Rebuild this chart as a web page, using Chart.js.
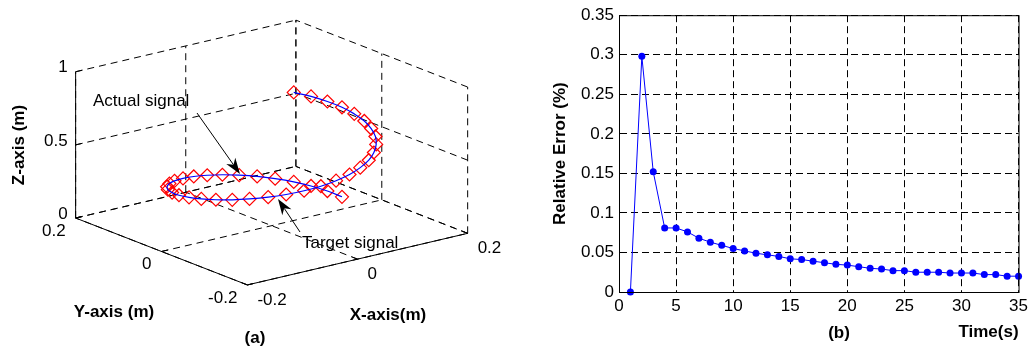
<!DOCTYPE html>
<html>
<head>
<meta charset="utf-8">
<script src="https://cdn.jsdelivr.net/npm/chart.js@4/dist/chart.umd.min.js"></script>
<style>
body { margin: 0; background: #fff; }
#wrap { position: relative; width: 1032px; height: 350px; }
#a { position: absolute; left: 0; top: 0; }
#b { position: absolute; left: 520px; top: 0; }
</style>
</head>
<body>
<div id="wrap">
  <canvas id="a" width="520" height="350"></canvas>
  <canvas id="b" width="512" height="350"></canvas>
</div>
<script>
const FONT = '"Liberation Sans", Arial, Helvetica, sans-serif';
Chart.defaults.font.family = FONT;
Chart.defaults.color = "#000";

// ---- (a) 3D trajectory ----
const axX = [-0.2, 0, 0.2];
const axY = [-0.2, 0, 0.2];
const axZ = [0, 0.5, 1];
const axXLabels = ["-0.2", "0", "0.2"];
const axYLabels = ["-0.2", "0", "0.2"];
const axZLabels = ["0", "0.5", "1"];

const trajX = [0.148, 0.141, 0.130, 0.115, 0.096, 0.075, 0.051, 0.026, 0.000, -0.026,
               -0.051, -0.075, -0.096, -0.115, -0.130, -0.141, -0.148, -0.150, -0.148, -0.141,
               -0.130, -0.115, -0.096, -0.075, -0.051, -0.026, 0.000, 0.026, 0.051, 0.075,
               0.096, 0.115, 0.130, 0.141, 0.148, 0.150, 0.148, 0.141, 0.130, 0.115];
const trajY = [0.026, 0.051, 0.075, 0.096, 0.115, 0.130, 0.141, 0.148, 0.150, 0.148,
               0.141, 0.130, 0.115, 0.096, 0.075, 0.051, 0.026, 0.000, -0.026, -0.051,
               -0.075, -0.096, -0.115, -0.130, -0.141, -0.148, -0.150, -0.148, -0.141, -0.130,
               -0.115, -0.096, -0.075, -0.051, -0.026, 0.000, 0.026, 0.051, 0.075, 0.096];
const trajZ = [0.037, 0.054, 0.071, 0.088, 0.105, 0.122, 0.139, 0.156, 0.173, 0.190,
               0.207, 0.224, 0.241, 0.258, 0.275, 0.292, 0.309, 0.326, 0.343, 0.360,
               0.377, 0.394, 0.411, 0.428, 0.445, 0.462, 0.479, 0.496, 0.513, 0.530,
               0.547, 0.564, 0.581, 0.598, 0.615, 0.632, 0.649, 0.666, 0.683, 0.700];

// ---- (b) relative error ----
const timeS = [1, 2, 3, 4, 5, 6, 7, 8, 9, 10, 11, 12, 13, 14, 15, 16, 17, 18,
               19, 20, 21, 22, 23, 24, 25, 26, 27, 28, 29, 30, 31, 32, 33, 34, 35];
const relErr = [0, 0.298, 0.152, 0.081, 0.081, 0.076, 0.068, 0.063, 0.059, 0.055,
                0.052, 0.049, 0.047, 0.045, 0.042, 0.041, 0.039, 0.037, 0.035, 0.034,
                0.032, 0.030, 0.029, 0.027, 0.027, 0.025, 0.025, 0.025, 0.024, 0.024,
                0.024, 0.022, 0.022, 0.020, 0.020];
const timeTicks = [0, 5, 10, 15, 20, 25, 30, 35];
const errTicks = [0, 0.05, 0.1, 0.15, 0.2, 0.25, 0.3, 0.35];
const errTickLabels = ["0", "0.05", "0.1", "0.15", "0.2", "0.25", "0.3", "0.35"];

// view of the 3D box: where the low corner lands and how each axis runs across the panel
const view = { ox: 247, oy: 290, ex: [567.5, -135], ey: [-442.5, -175], ez: [0, -153] };
const xLo = axX[0], xHi = axX[axX.length - 1];
const yLo = axY[0], yHi = axY[axY.length - 1];
const zLo = axZ[0], zHi = axZ[axZ.length - 1];

function project(x, y, z) {
    const u = x - xLo, v = y - yLo, w = z - zLo;
    return {
        x: view.ox + u * view.ex[0] + v * view.ey[0] + w * view.ez[0],
        y: view.oy + u * view.ex[1] + v * view.ey[1] + w * view.ez[1]
    };
}

function segment(a, b, dashed, width) {
    return {
        data: [project(a[0], a[1], a[2]), project(b[0], b[1], b[2])],
        showLine: true,
        borderColor: "#000",
        borderWidth: width || 1,
        borderDash: dashed ? [7, 5] : [],
        pointRadius: 0,
        clip: false
    };
}

// grid lines on the floor and the two back walls
const gridSegs = [];
axX.forEach(x => {
    gridSegs.push(segment([x, yLo, zLo], [x, yHi, zLo], true));
    gridSegs.push(segment([x, yHi, zLo], [x, yHi, zHi], true));
});
axY.forEach(y => {
    gridSegs.push(segment([xLo, y, zLo], [xHi, y, zLo], true));
    gridSegs.push(segment([xHi, y, zLo], [xHi, y, zHi], true));
});
axZ.forEach(z => {
    gridSegs.push(segment([xLo, yHi, z], [xHi, yHi, z], true));
    gridSegs.push(segment([xHi, yLo, z], [xHi, yHi, z], true));
});

// solid axes and their ticks
const axisSegs = [
    segment([xLo, yLo, zLo], [xHi, yLo, zLo], false),
    segment([xLo, yLo, zLo], [xLo, yHi, zLo], false),
    segment([xLo, yHi, zLo], [xLo, yHi, zHi], false)
];
axX.forEach(x => axisSegs.push(segment([x, yLo, zLo], [x, yLo + 0.012, zLo], false)));
axY.forEach(y => axisSegs.push(segment([xLo, y, zLo], [xLo + 0.012, y, zLo], false)));
axZ.forEach(z => axisSegs.push(segment([xLo, yHi, z], [xLo + 0.012, yHi, z], false)));

const trajPts = trajX.map((x, i) => project(x, trajY[i], trajZ[i]));

function arrow(ctx, x1, y1, x2, y2) {
    const ang = Math.atan2(y2 - y1, x2 - x1);
    const c = Math.cos(ang), s = Math.sin(ang);
    const L = 16, W = 5.5;
    ctx.strokeStyle = "#000";
    ctx.lineWidth = 1;
    ctx.beginPath();
    ctx.moveTo(x1, y1);
    ctx.lineTo(x2 - 0.7 * L * c, y2 - 0.7 * L * s);
    ctx.stroke();
    ctx.beginPath();
    ctx.moveTo(x2, y2);
    ctx.lineTo(x2 - L * c + W * s, y2 - L * s - W * c);
    ctx.lineTo(x2 - 0.7 * L * c, y2 - 0.7 * L * s);
    ctx.lineTo(x2 - L * c - W * s, y2 - L * s + W * c);
    ctx.closePath();
    ctx.fill();
}

const labelsA = {
    id: "labelsA",
    afterDraw(chart) {
        const ctx = chart.ctx;
        const sx = chart.scales.x, sy = chart.scales.y;
        const px = p => ({ x: sx.getPixelForValue(p.x), y: sy.getPixelForValue(p.y) });
        ctx.save();
        ctx.fillStyle = "#000";
        ctx.font = "17px " + FONT;
        ctx.textBaseline = "middle";

        ctx.textAlign = "right";
        axZ.forEach((z, i) => {
            const p = px(project(xLo, yHi, z));
            ctx.fillText(axZLabels[i], p.x - 8, p.y - 4);
        });
        axY.forEach((y, i) => {
            const p = px(project(xLo, y, zLo));
            ctx.fillText(axYLabels[i], p.x - 10, p.y + 13);
        });
        ctx.textAlign = "left";
        axX.forEach((x, i) => {
            const p = px(project(x, yLo, zLo));
            ctx.fillText(axXLabels[i], p.x + 10, p.y + 15);
        });

        ctx.font = "bold 17px " + FONT;
        ctx.textAlign = "center";
        ctx.fillText("Y-axis (m)", 114, 312);
        ctx.fillText("X-axis(m)", 388, 315);
        ctx.fillText("(a)", 255, 338);
        ctx.save();
        ctx.translate(19, 145);
        ctx.rotate(-Math.PI / 2);
        ctx.fillText("Z-axis (m)", 0, 0);
        ctx.restore();

        ctx.font = "17px " + FONT;
        ctx.textAlign = "left";
        ctx.fillText("Actual signal", 93, 101);
        ctx.fillText("Target signal", 302, 243);
        arrow(ctx, 197, 113, 240, 174);
        arrow(ctx, 300, 232, 278, 199);
        ctx.restore();
    }
};

new Chart(document.getElementById("a"), {
    type: "scatter",
    data: {
        datasets: [
            {
                label: "Actual signal",
                data: trajPts,
                showLine: true,
                borderColor: "#0000ff",
                borderWidth: 1.2,
                pointRadius: 0,
                tension: 0.4,
                clip: false
            },
            {
                label: "Target signal",
                data: trajPts,
                showLine: false,
                pointStyle: "rectRot",
                pointRadius: 6.5,
                pointBorderWidth: 1.2,
                borderColor: "#ff0000",
                backgroundColor: "rgba(0,0,0,0)",
                clip: false
            },
            ...axisSegs,
            ...gridSegs
        ]
    },
    options: {
        responsive: false,
        animation: false,
        devicePixelRatio: 1,
        events: [],
        layout: { padding: 0 },
        plugins: { legend: { display: false }, tooltip: { enabled: false } },
        scales: {
            x: { type: "linear", min: 0, max: 520, display: false },
            y: { type: "linear", min: 0, max: 350, reverse: true, display: false }
        }
    },
    plugins: [labelsA]
});

const boxB = {
    id: "boxB",
    afterDraw(chart) {
        const { ctx, chartArea: a } = chart;
        ctx.save();
        ctx.strokeStyle = "#000";
        ctx.lineWidth = 1;
        ctx.strokeRect(a.left + 0.5, a.top + 0.5, a.right - a.left, a.bottom - a.top);
        ctx.fillStyle = "#000";
        ctx.font = "bold 17px " + FONT;
        ctx.textAlign = "center";
        ctx.textBaseline = "middle";
        ctx.fillText("(b)", 319, 333);
        ctx.restore();
    }
};

new Chart(document.getElementById("b"), {
    type: "scatter",
    data: {
        datasets: [{
            data: timeS.map((t, i) => ({ x: t, y: relErr[i] })),
            showLine: true,
            borderColor: "#0000ff",
            backgroundColor: "#0000ff",
            borderWidth: 1,
            pointRadius: 3.5,
            pointBorderWidth: 0,
            clip: false
        }]
    },
    options: {
        responsive: false,
        animation: false,
        devicePixelRatio: 1,
        events: [],
        layout: { padding: { top: 14, right: 11, left: 0, bottom: 0 } },
        plugins: { legend: { display: false }, tooltip: { enabled: false } },
        scales: {
            x: {
                type: "linear",
                min: 0,
                max: 35,
                afterBuildTicks: s => { s.ticks = timeTicks.map(v => ({ value: v })); },
                afterFit: s => { s.height = 58; },
                grid: { color: "#000", drawTicks: false },
                border: { color: "#000", dash: [7, 4] },
                ticks: { font: { size: 17 }, padding: 4, maxRotation: 0, autoSkip: false },
                title: {
                    display: true, text: "Time(s)", align: "end",
                    font: { size: 17, weight: "bold" }, padding: { top: 0, bottom: 7 }
                }
            },
            y: {
                type: "linear",
                min: 0,
                max: 0.35,
                afterBuildTicks: s => { s.ticks = errTicks.map(v => ({ value: v })); },
                afterFit: s => { s.width = 99; },
                grid: { color: "#000", drawTicks: false },
                border: { color: "#000", dash: [7, 4] },
                ticks: { font: { size: 17 }, padding: 5, callback: (v, i) => errTickLabels[i] },
                title: {
                    display: true, text: "Relative Error (%)",
                    font: { size: 17, weight: "bold" }, padding: { top: 30, bottom: 0 }
                }
            }
        }
    },
    plugins: [boxB]
});
</script>
</body>
</html>
